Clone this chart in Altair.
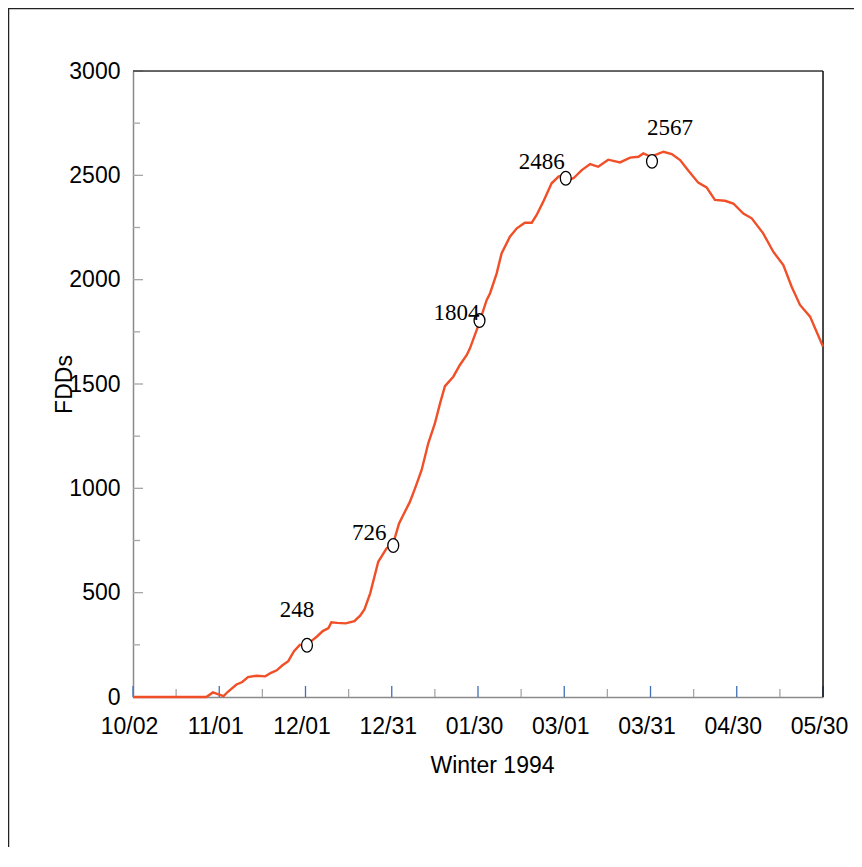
import altair as alt
import pandas as pd

# ---------------- data ----------------
# days since 10/02 (Winter 1994) and accumulated freezing degree days
days = [0, 25.5, 27.8, 29.5, 31.5, 33, 36, 38, 40, 43, 46, 48, 50, 52, 54, 56, 58, 60,
        62, 64, 66, 68, 69, 71, 74, 77, 79, 80.5, 82.5, 85.3, 88.2, 90.5, 92.5, 94,
        96.3, 98.1, 100.4, 102.7, 105, 106.8, 108.5, 111.4, 113.7, 116.1, 117.2,
        120.1, 123, 124.2, 126.5, 128.2, 131.1, 133.5, 136.3, 138.7, 140.4, 142.7,
        145.6, 148, 149.7, 151.5, 153.2, 156.1, 159, 161.8, 165.3, 169.4, 172.9,
        175.8, 177.5, 180, 182.2, 184.5, 187.4, 190.3, 193.2, 196.6, 199.5, 202.4,
        205.9, 208.8, 212.3, 215.2, 219.2, 222.7, 226.2, 229.1, 232, 235.5, 239.5, 240]
fdds = [0, 0, 22, 14, 4, 25, 60, 72, 95, 102, 99, 116, 128, 152, 172, 220, 250, 252,
        268, 290, 316, 330, 358, 355, 353, 364, 390, 420, 497, 648, 712, 735, 830, 872,
        935, 1000, 1088, 1216, 1311, 1407, 1490, 1535, 1591, 1639, 1671,
        1780, 1902, 1935, 2030, 2126, 2206, 2246, 2273, 2273, 2310, 2374,
        2462, 2494, 2502, 2478, 2486, 2525, 2554, 2541, 2575, 2562, 2585,
        2589, 2605, 2590, 2600, 2613, 2602, 2573, 2522, 2465, 2442, 2382,
        2378, 2365, 2317, 2294, 2222, 2134, 2070, 1966, 1879, 1823, 1695, 1680]

marker_days = [60, 90, 120, 150, 180]
marker_vals = [248, 726, 1804, 2486, 2567]
marker_labels = ["248", "726", "1804", "2486", "2567"]

x_tick_labels = ["10/02", "11/01", "12/01", "12/31", "01/30", "03/01", "03/31", "04/30", "05/30"]
x_major_ticks = [0, 30, 60, 90, 120, 150, 180, 210, 240]
x_minor_ticks = [15, 45, 75, 105, 135, 165, 195, 225]
y_major_ticks = [0, 500, 1000, 1500, 2000, 2500, 3000]
y_minor_ticks = [250, 750, 1250, 1750, 2250, 2750]

# ---------------- layout / style ----------------
W, H = 690, 626
PAD = {"left": 125, "top": 63, "right": 31, "bottom": 150}
ORANGE = "#f04f27"
BLUE = "#3f6fb8"
GRAY_TICK = "#a6a6a6"
AXIS_GRAY = "#8a8a8a"
SANS = "Liberation Sans"
SERIF = "Liberation Serif"
label_offsets = [(-10, -35), (-24, -13), (-23, -8), (-24, -16), (18, -33)]
ELLIPSE = "M0,-1 A0.8,1 0 1,1 0,1 A0.8,1 0 1,1 0,-1 Z"

xs = alt.Scale(domain=[0, 240], nice=False, zero=False)
ys = alt.Scale(domain=[0, 3000], nice=False)

label_expr = "[" + ",".join("'%s'" % s for s in x_tick_labels) + "][round(datum.value/30)]"

df = pd.DataFrame({"day": days, "fdd": fdds})
line = alt.Chart(df).mark_line(color=ORANGE, strokeWidth=2.4).encode(
    x=alt.X("day:Q", scale=xs, axis=alt.Axis(
        values=x_major_ticks, labelExpr=label_expr, title="Winter 1994",
        ticks=False, tickSize=0, labelPadding=36, labelBaseline="alphabetic",
        labelOffset=-4,
        labelFont=SANS, labelFontSize=23, labelColor="black",
        titleFont=SANS, titleFontSize=23, titleFontWeight="normal", titleColor="black",
        titleX=W / 2 + 14, titleY=75, titleBaseline="alphabetic",
        grid=False, domainColor=AXIS_GRAY, domainWidth=1.5, labelFlush=False,
        labelOverlap=False)),
    y=alt.Y("fdd:Q", scale=ys, axis=alt.Axis(
        values=y_major_ticks, title="FDDs", format="d",
        ticks=False, tickSize=0, labelPadding=13,
        labelFont=SANS, labelFontSize=23, labelColor="black",
        titleFont=SANS, titleFontSize=23, titleFontWeight="normal", titleColor="black",
        titleX=-69, titleY=H / 2, titleBaseline="middle", titleAngle=270,
        grid=False, domainColor=AXIS_GRAY, domainWidth=1.5, labelFlush=False,
        labelOverlap=False)),
)

xmaj = alt.Chart(pd.DataFrame({"day": x_major_ticks})).mark_rule(color=BLUE, strokeWidth=1.3).encode(
    x=alt.X("day:Q", scale=xs), y=alt.value(H - 11), y2=alt.value(H))
xmin = alt.Chart(pd.DataFrame({"day": x_minor_ticks})).mark_rule(color=GRAY_TICK, strokeWidth=1.3).encode(
    x=alt.X("day:Q", scale=xs), y=alt.value(H - 8), y2=alt.value(H))
ymaj = alt.Chart(pd.DataFrame({"fdd": y_major_ticks})).mark_rule(color=GRAY_TICK, strokeWidth=1.3).encode(
    y=alt.Y("fdd:Q", scale=ys), x=alt.value(0), x2=alt.value(10))
ymin = alt.Chart(pd.DataFrame({"fdd": y_minor_ticks})).mark_rule(color=GRAY_TICK, strokeWidth=1.3).encode(
    y=alt.Y("fdd:Q", scale=ys), x=alt.value(0), x2=alt.value(7))

# plot frame: top and right edges drawn explicitly
border_top = alt.Chart(pd.DataFrame({"a": [0]})).mark_rule(color="#3a3a3a", strokeWidth=1.5).encode(
    x=alt.value(0), x2=alt.value(W), y=alt.value(0))
border_right = alt.Chart(pd.DataFrame({"a": [0]})).mark_rule(color="#111", strokeWidth=1.5).encode(
    x=alt.value(W), y=alt.value(0), y2=alt.value(H))

mdf = pd.DataFrame({"day": marker_days, "fdd": marker_vals, "lab": marker_labels})
markers = alt.Chart(mdf).mark_point(shape=ELLIPSE, size=185, filled=True, fill="white",
                                    stroke="black", strokeWidth=1.3, opacity=1, xOffset=1.5).encode(
    x=alt.X("day:Q", scale=xs), y=alt.Y("fdd:Q", scale=ys))

texts = []
for i, (dx, dy) in enumerate(label_offsets):
    texts.append(alt.Chart(mdf.iloc[[i]]).mark_text(
        font=SERIF, fontSize=23, color="black", baseline="middle", align="center",
        dx=dx + 1.5, dy=dy).encode(
        x=alt.X("day:Q", scale=xs), y=alt.Y("fdd:Q", scale=ys), text="lab:N"))

# outer page frame (left and top edges; the rest runs off the page)
frame_left = alt.Chart(pd.DataFrame({"a": [0]})).mark_rule(color="#222", strokeWidth=1.5).encode(
    x=alt.value(-124.5), y=alt.value(-63), y2=alt.value(H + PAD["bottom"]))
frame_top = alt.Chart(pd.DataFrame({"a": [0]})).mark_rule(color="#222", strokeWidth=1.5).encode(
    x=alt.value(-125), x2=alt.value(W + PAD["right"]), y=alt.value(-62.5))

chart = alt.layer(frame_left, frame_top, xmin, xmaj, ymin, ymaj, border_top, border_right,
                  line, markers, *texts).properties(
    width=W, height=H, padding=PAD, autosize=alt.AutoSizeParams(type="none")
).configure_view(stroke=None).configure(background="white")

chart.save("out.html", embed_options={"renderer": "svg", "actions": False})
